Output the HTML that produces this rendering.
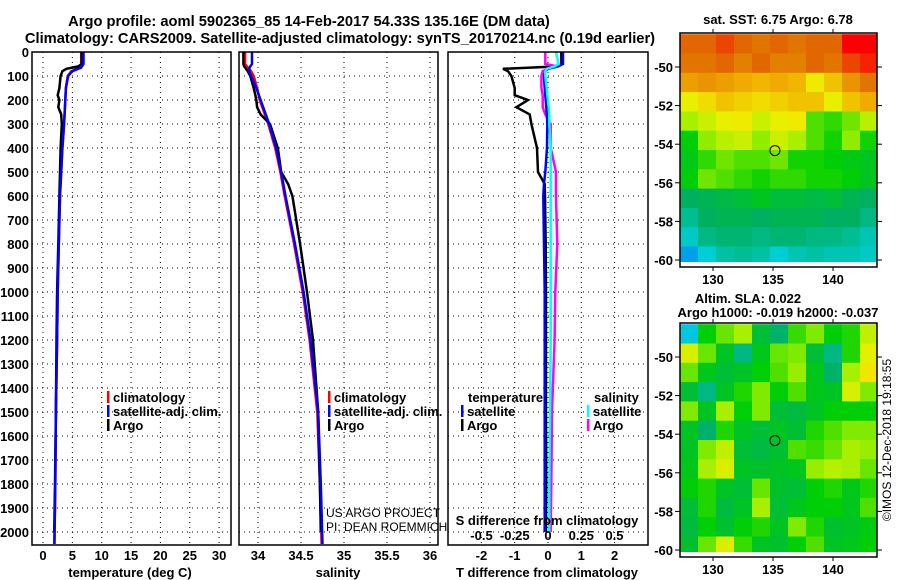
<!DOCTYPE html>
<html><head><meta charset="utf-8">
<style>
body{margin:0;background:#fff;}
svg{display:block;font-family:"Liberation Sans",sans-serif;}
.t{font-weight:bold;font-size:14.7px;}
</style></head>
<body>
<svg id="c" width="900" height="580" viewBox="0 0 900 580">
<text class="t" x="309" y="26" text-anchor="middle">Argo profile: aoml 5902365_85 14-Feb-2017 54.33S 135.16E (DM data)</text>
<text class="t" x="340" y="43" text-anchor="middle">Climatology: CARS2009. Satellite-adjusted climatology: synTS_20170214.nc (0.19d earlier)</text>
<g id="grid"></g>
<g id="series"></g>
<g id="frames"></g>
<g id="maps"></g>
<g id="labels"></g>
</svg>
<script>
// ---- data ----
const depthTicks=[0,100,200,300,400,500,600,700,800,900,1000,1100,1200,1300,1400,1500,1600,1700,1800,1900,2000];
const tempTicks=[0,5,10,15,20,25,30];
const salTicks=[34,34.5,35,35.5,36];
const salTickLabels=["34","34.5","35","35.5","36"];
const tdiffTicks=[-2,-1,0,1,2];
const sdiffTicks=[-0.5,-0.25,0,0.25,0.5];
const sdiffTickLabels=["-0.5","-0.25","0","0.25","0.5"];

const climDepth=[0,50,65,80,100,150,200,300,400,500,600,800,1000,1200,1500,1800,2050];
const tempClim=[6.5,6.5,6.2,4.8,4.2,3.9,3.8,3.6,3.3,3.1,2.9,2.7,2.5,2.4,2.2,2.1,1.95];
const tempSat=[6.9,6.9,6.5,5.0,4.3,3.9,3.8,3.6,3.3,3.1,2.9,2.7,2.5,2.4,2.2,2.1,1.95];
const salClim=[33.85,33.85,33.88,33.92,33.95,33.99,34.02,34.12,34.2,34.26,34.31,34.42,34.52,34.6,34.69,34.72,34.74];
const salSat=[33.93,33.93,33.9,33.9,33.92,33.98,34.03,34.13,34.21,34.27,34.32,34.43,34.53,34.61,34.7,34.73,34.75];

const argoDepth=[0,50,60,70,80,100,150,180,200,230,260,300,400,500,550,600,800,1000,1200,1500,1800,2000];
const tempArgo=[6.6,6.6,6.0,4.0,3.3,3.0,2.8,2.5,2.8,2.6,3.1,3.2,3.0,2.9,2.85,2.8,2.6,2.4,2.3,2.2,2.05,1.9];
const salArgo=[33.83,33.83,33.84,33.86,33.88,33.91,33.95,33.97,33.98,33.99,34.03,34.14,34.23,34.27,34.35,34.4,34.49,34.57,34.64,34.7,34.72,34.73];
const tdiffArgo=[0.4,0.4,0.3,-1.35,-1.2,-1.1,-1.0,-1.0,-0.6,-0.95,-0.55,-0.5,-0.33,-0.3,-0.1,-0.09,-0.07,-0.06,-0.06,-0.06,-0.05,-0.06];
const tdiffSat=[0.45,0.45,0.3,0.0,-0.08,-0.12,-0.1,-0.08,-0.07,-0.05,-0.03,-0.02,-0.03,-0.08,-0.12,-0.14,-0.12,-0.1,-0.1,-0.1,-0.1,-0.1];
const sdiffSat=[0.06,0.08,0.05,-0.01,-0.02,-0.02,-0.01,-0.005,0.0,0.005,0.01,0.01,0.02,0.02,0.02,0.02,0.02,0.02,0.02,0.015,0.01,0.01];
const sdiffArgo=[-0.02,-0.02,0.07,0.0,-0.04,-0.05,-0.05,-0.04,-0.04,-0.04,-0.02,0.02,0.02,0.06,0.06,0.06,0.07,0.055,0.05,0.03,0.025,0.02];

const mapLons=[127.25,128.75,130.25,131.75,133.25,134.75,136.25,137.75,139.25,140.75,142.25];
const mapLats=[-48.3,-49.3,-50.3,-51.3,-52.3,-53.3,-54.3,-55.3,-56.3,-57.3,-58.3,-59.3];
const sstGrid=[
[8.4,8.4,8.6,8.4,8.3,8.4,8.3,8.4,8.4,9.0,9.0],
[8.3,8.3,8.4,8.2,8.4,8.2,8.2,8.4,8.3,8.6,8.8],
[7.9,8.0,7.9,7.8,7.7,7.8,7.7,7.3,7.6,8.0,8.3],
[7.2,7.4,7.6,7.5,7.4,7.5,7.6,7.6,7.2,7.6,7.8],
[6.8,7.0,7.2,7.3,7.0,7.2,7.3,6.5,6.4,6.6,6.9],
[6.2,6.7,6.9,7.0,6.7,7.0,6.8,6.5,6.3,6.7,6.3],
[6.1,6.4,6.6,6.5,6.5,6.6,6.3,6.3,6.2,6.1,6.0],
[6.2,6.6,6.5,6.4,6.3,6.4,6.4,6.3,6.3,6.2,6.0],
[5.5,5.6,5.7,5.8,6.0,5.8,5.8,5.7,5.8,5.6,5.5],
[5.2,5.5,5.6,5.6,5.5,5.6,5.6,5.6,5.5,5.5,5.3],
[4.9,5.3,5.4,5.4,5.3,5.4,5.4,5.3,5.3,5.2,5.0],
[4.5,4.8,5.1,5.2,5.1,4.8,5.0,5.1,5.0,5.0,4.9]];
const slaGrid=[
[-0.2,0.0,0.05,0.08,-0.05,-0.1,0.03,0.06,0.0,0.02,0.1],
[0.12,0.05,-0.03,-0.12,-0.02,0.05,0.06,-0.05,-0.12,0.02,0.13],
[0.05,-0.02,-0.05,-0.03,0.0,0.04,0.07,-0.02,-0.1,0.08,0.15],
[-0.05,-0.12,-0.03,0.02,0.06,0.0,0.04,-0.02,-0.03,0.12,0.06],
[0.06,-0.03,0.08,0.0,0.06,-0.05,-0.06,-0.03,0.0,0.0,0.0],
[-0.03,-0.1,0.02,-0.03,-0.05,-0.03,-0.05,0.02,0.04,0.06,0.06],
[-0.03,0.06,0.1,-0.05,-0.06,-0.04,0.04,0.03,0.05,0.08,0.07],
[-0.02,0.08,0.12,-0.03,-0.04,-0.03,-0.02,0.07,0.09,0.08,0.05],
[0.0,0.02,-0.03,-0.05,0.05,-0.04,-0.05,0.0,0.02,-0.02,0.02],
[-0.05,0.02,-0.06,-0.03,0.08,-0.05,-0.02,0.0,0.0,-0.02,0.04],
[-0.06,0.0,-0.04,0.0,0.02,-0.03,0.06,0.02,-0.04,-0.03,-0.01],
[-0.04,0.05,0.12,0.03,-0.03,-0.04,0.0,0.04,-0.03,-0.02,0.0]];
const mapLatTicks=[-50,-52,-54,-56,-58,-60];
const mapLonTicks=[130,135,140];
const argoPos=[135.16,-54.33];

// ---- scales ----
const NS="http://www.w3.org/2000/svg";
const yD=d=>52+d*0.24;
const xT=v=>43+v*5.87;
const xS=v=>258+(v-34)*86;
const xTd=v=>548+v*33.3;
const xSd=v=>548+v*133;
const P=[{x0:32,x1:231},{x0:239,x1:438},{x0:448,x1:648}];
const Y0=52,Y1=545;
function mk(tag,attrs,parent){const e=document.createElementNS(NS,tag);for(const k in attrs)e.setAttribute(k,attrs[k]);parent.appendChild(e);return e;}
const G=document.getElementById('grid'),S=document.getElementById('series'),F=document.getElementById('frames'),L=document.getElementById('labels'),M=document.getElementById('maps');
const dot={stroke:'#000','stroke-width':1,'stroke-dasharray':'1,4'};

// grids
P.forEach((p,i)=>{
  depthTicks.forEach(d=>{const l=mk('line',Object.assign({x1:p.x0,x2:p.x1,y1:yD(d),y2:yD(d)},dot),G);
    
    });
});
tempTicks.forEach(v=>{const l=mk('line',Object.assign({x1:xT(v),x2:xT(v),y1:Y0,y2:Y1},dot),G);
  
  });
salTicks.forEach(v=>{const l=mk('line',Object.assign({x1:xS(v),x2:xS(v),y1:Y0,y2:Y1},dot),G);
  
  });
tdiffTicks.forEach(v=>{const l=mk('line',Object.assign({x1:xTd(v),x2:xTd(v),y1:Y0,y2:Y1},dot),G);
  
  });

// series
function line(xs,ds,fx,col,name){
  const pts=xs.map((v,i)=>fx(v).toFixed(1)+','+yD(ds[i]).toFixed(1)).join(' ');
  const l=mk('polyline',{points:pts,fill:'none',stroke:col,'stroke-width':2.5,'stroke-linejoin':'miter'},S);
  
  
}
line(tempClim,climDepth,xT,'#ff0000','temp-climatology-line');
line(tempArgo,argoDepth,xT,'#000','temp-argo-line');
line(tempSat,climDepth,xT,'#0000ff','temp-satellite-line');
line(salClim,climDepth,xS,'#ff0000','sal-climatology-line');
line(salArgo,argoDepth,xS,'#000','sal-argo-line');
line(salSat,climDepth,xS,'#0000ff','sal-satellite-line');
line(tdiffArgo,argoDepth,xTd,'#000','tdiff-argo-line');
line(sdiffArgo,argoDepth,xSd,'#ff00ff','sdiff-argo-line');
line(tdiffSat,argoDepth,xTd,'#0000ff','tdiff-satellite-line');
line(sdiffSat,argoDepth,xSd,'#00ffff','sdiff-satellite-line');

// frames
P.forEach((p,i)=>{const r=mk('rect',{x:p.x0,y:Y0,width:p.x1-p.x0,height:Y1-Y0,fill:'none',stroke:'#000','stroke-width':1.5},F);
  
  });

function txt(s,x,y,attrs,name,parent){const t=mk('text',Object.assign({x:x,y:y},attrs||{}),parent||L);t.textContent=s;
  
  return t;}
const B={'font-weight':'bold','font-size':'13px'};
depthTicks.forEach(d=>txt(String(d),29,yD(d)+5,Object.assign({'text-anchor':'end'},B),'depth-tick-label'));
tempTicks.forEach(v=>txt(String(v),xT(v),560,Object.assign({'text-anchor':'middle'},B),'temperature-tick-label'));
salTicks.forEach((v,i)=>txt(salTickLabels[i],xS(v),560,Object.assign({'text-anchor':'middle'},B),'salinity-tick-label'));
tdiffTicks.forEach(v=>txt(String(v),xTd(v),560,Object.assign({'text-anchor':'middle'},B),'tdiff-tick-label'));
sdiffTicks.forEach((v,i)=>txt(sdiffTickLabels[i],xSd(v),540,Object.assign({'text-anchor':'middle'},B),'sdiff-tick-label'));
txt('temperature (deg C)',130,577,Object.assign({'text-anchor':'middle'},B),'temperature-axis-title');
txt('salinity',338,577,Object.assign({'text-anchor':'middle'},B),'salinity-axis-title');
txt('T difference from climatology',547,577,Object.assign({'text-anchor':'middle'},B),'tdiff-axis-title');
txt('S difference from climatology',547,525,Object.assign({'text-anchor':'middle'},B),'sdiff-axis-title');
txt('US ARGO PROJECT',326,517,{'font-size':'12px'},'project-credit');
txt('PI: DEAN ROEMMICH',326,531,{'font-size':'12px'},'pi-credit');

// legends
function leg(x,y,col,label,name){
  const r=mk('rect',{x:x,y:y-11,width:2.5,height:12,fill:col},L);
  
  
  txt(label,x+6,y,B,name);
}
leg(107,402,'#ff0000','climatology','legend-climatology');
leg(107,416,'#0000ff','satellite-adj. clim.','legend-satellite');
leg(107,430,'#000','Argo','legend-argo');
leg(328,402,'#ff0000','climatology','legend2-climatology');
leg(328,416,'#0000ff','satellite-adj. clim.','legend2-satellite');
leg(328,430,'#000','Argo','legend2-argo');
txt('temperature',468,402,B,'legend-temperature-heading');
leg(461,416,'#0000ff','satellite','legend-t-satellite');
leg(461,430,'#000','Argo','legend-t-argo');
txt('salinity',594,402,B,'legend-salinity-heading');
leg(587,416,'#00ffff','satellite','legend-s-satellite');
leg(587,430,'#ff00ff','Argo','legend-s-argo');

// maps
const stops=[[0,[0,64,255]],[0.15,[0,208,224]],[0.3,[0,176,96]],[0.45,[0,208,0]],[0.55,[160,240,0]],[0.65,[240,240,0]],[0.75,[240,176,0]],[0.87,[224,112,0]],[1,[255,0,0]]];
function cmap(t){t=Math.max(0,Math.min(1,t));for(let i=1;i<stops.length;i++){if(t<=stops[i][0]){const a=stops[i-1],b=stops[i],f=(t-a[0])/(b[0]-a[0]);const c=a[1].map((v,k)=>Math.round(v+(b[1][k]-v)*f));return 'rgb('+c.join(',')+')';}}return 'rgb(255,0,0)';}
function drawMap(grid,norm,top,bot,latAt50,name){
  const xL=lon=>713+(lon-130)*12;
  const yL=lat=>latAt50+(-50-lat)*19.3;
  const g=mk('g',{},M);
  
  
  const clip=mk('clipPath',{id:name+'-clip'},g);
  mk('rect',{x:680,y:top,width:197,height:bot-top},clip);
  const cg=mk('g',{'clip-path':'url(#'+name+'-clip)'},g);
  grid.forEach((row,r)=>row.forEach((v,c)=>{
    const x=xL(mapLons[c]),y=yL(mapLats[r]);
    const w=xL(mapLons[c]+1.5)-x+0.5,h=yL(mapLats[r]-1)-y+0.5;
    const rc=mk('rect',{x:x.toFixed(1),y:y.toFixed(1),width:w.toFixed(1),height:h.toFixed(1),fill:cmap(norm(v))},cg);
    
    
  }));
  const ci=mk('circle',{cx:xL(argoPos[0]),cy:yL(argoPos[1]),r:5,fill:'none',stroke:'#000','stroke-width':1},g);
  
  
  const fr=mk('rect',{x:680,y:top,width:197,height:bot-top+5,fill:'none',stroke:'#000','stroke-width':1.5},g);
  
  
  mapLatTicks.forEach(lat=>{const y=yL(lat);
    mk('line',{x1:675,x2:680,y1:y,y2:y,stroke:'#000'},g);mk('line',{x1:877,x2:882,y1:y,y2:y,stroke:'#000'},g);
    txt(String(lat),673,y+5,Object.assign({'text-anchor':'end'},B),'map-lat-label');});
  mapLonTicks.forEach(lon=>{const x=xL(lon);
    mk('line',{x1:x,x2:x,y1:top-4,y2:top,stroke:'#000'},g);mk('line',{x1:x,x2:x,y1:bot+5,y2:bot+9,stroke:'#000'},g);
    txt(String(lon),x,bot+22,Object.assign({'text-anchor':'middle'},B),'map-lon-label');});
}
drawMap(sstGrid,v=>(v-4)/5,33,262,67,'sst-map');
drawMap(slaGrid,v=>(v+0.26)/0.6*0.9+0.05,323,552,357,'sla-map');
txt('sat. SST: 6.75 Argo: 6.78',778,24,Object.assign({'text-anchor':'middle'},B),'sst-map-title');
txt('Altim. SLA: 0.022',748,303,Object.assign({'text-anchor':'middle'},B),'sla-map-title');
txt('Argo h1000: -0.019 h2000: -0.037',778,317,Object.assign({'text-anchor':'middle'},B),'sla-map-subtitle');
txt('©IMOS 12-Dec-2018 19:18:55',0,0,{'font-size':'12px','text-anchor':'middle',transform:'translate(891,440) rotate(-90)'},'imos-timestamp');
</script>
</body></html>
